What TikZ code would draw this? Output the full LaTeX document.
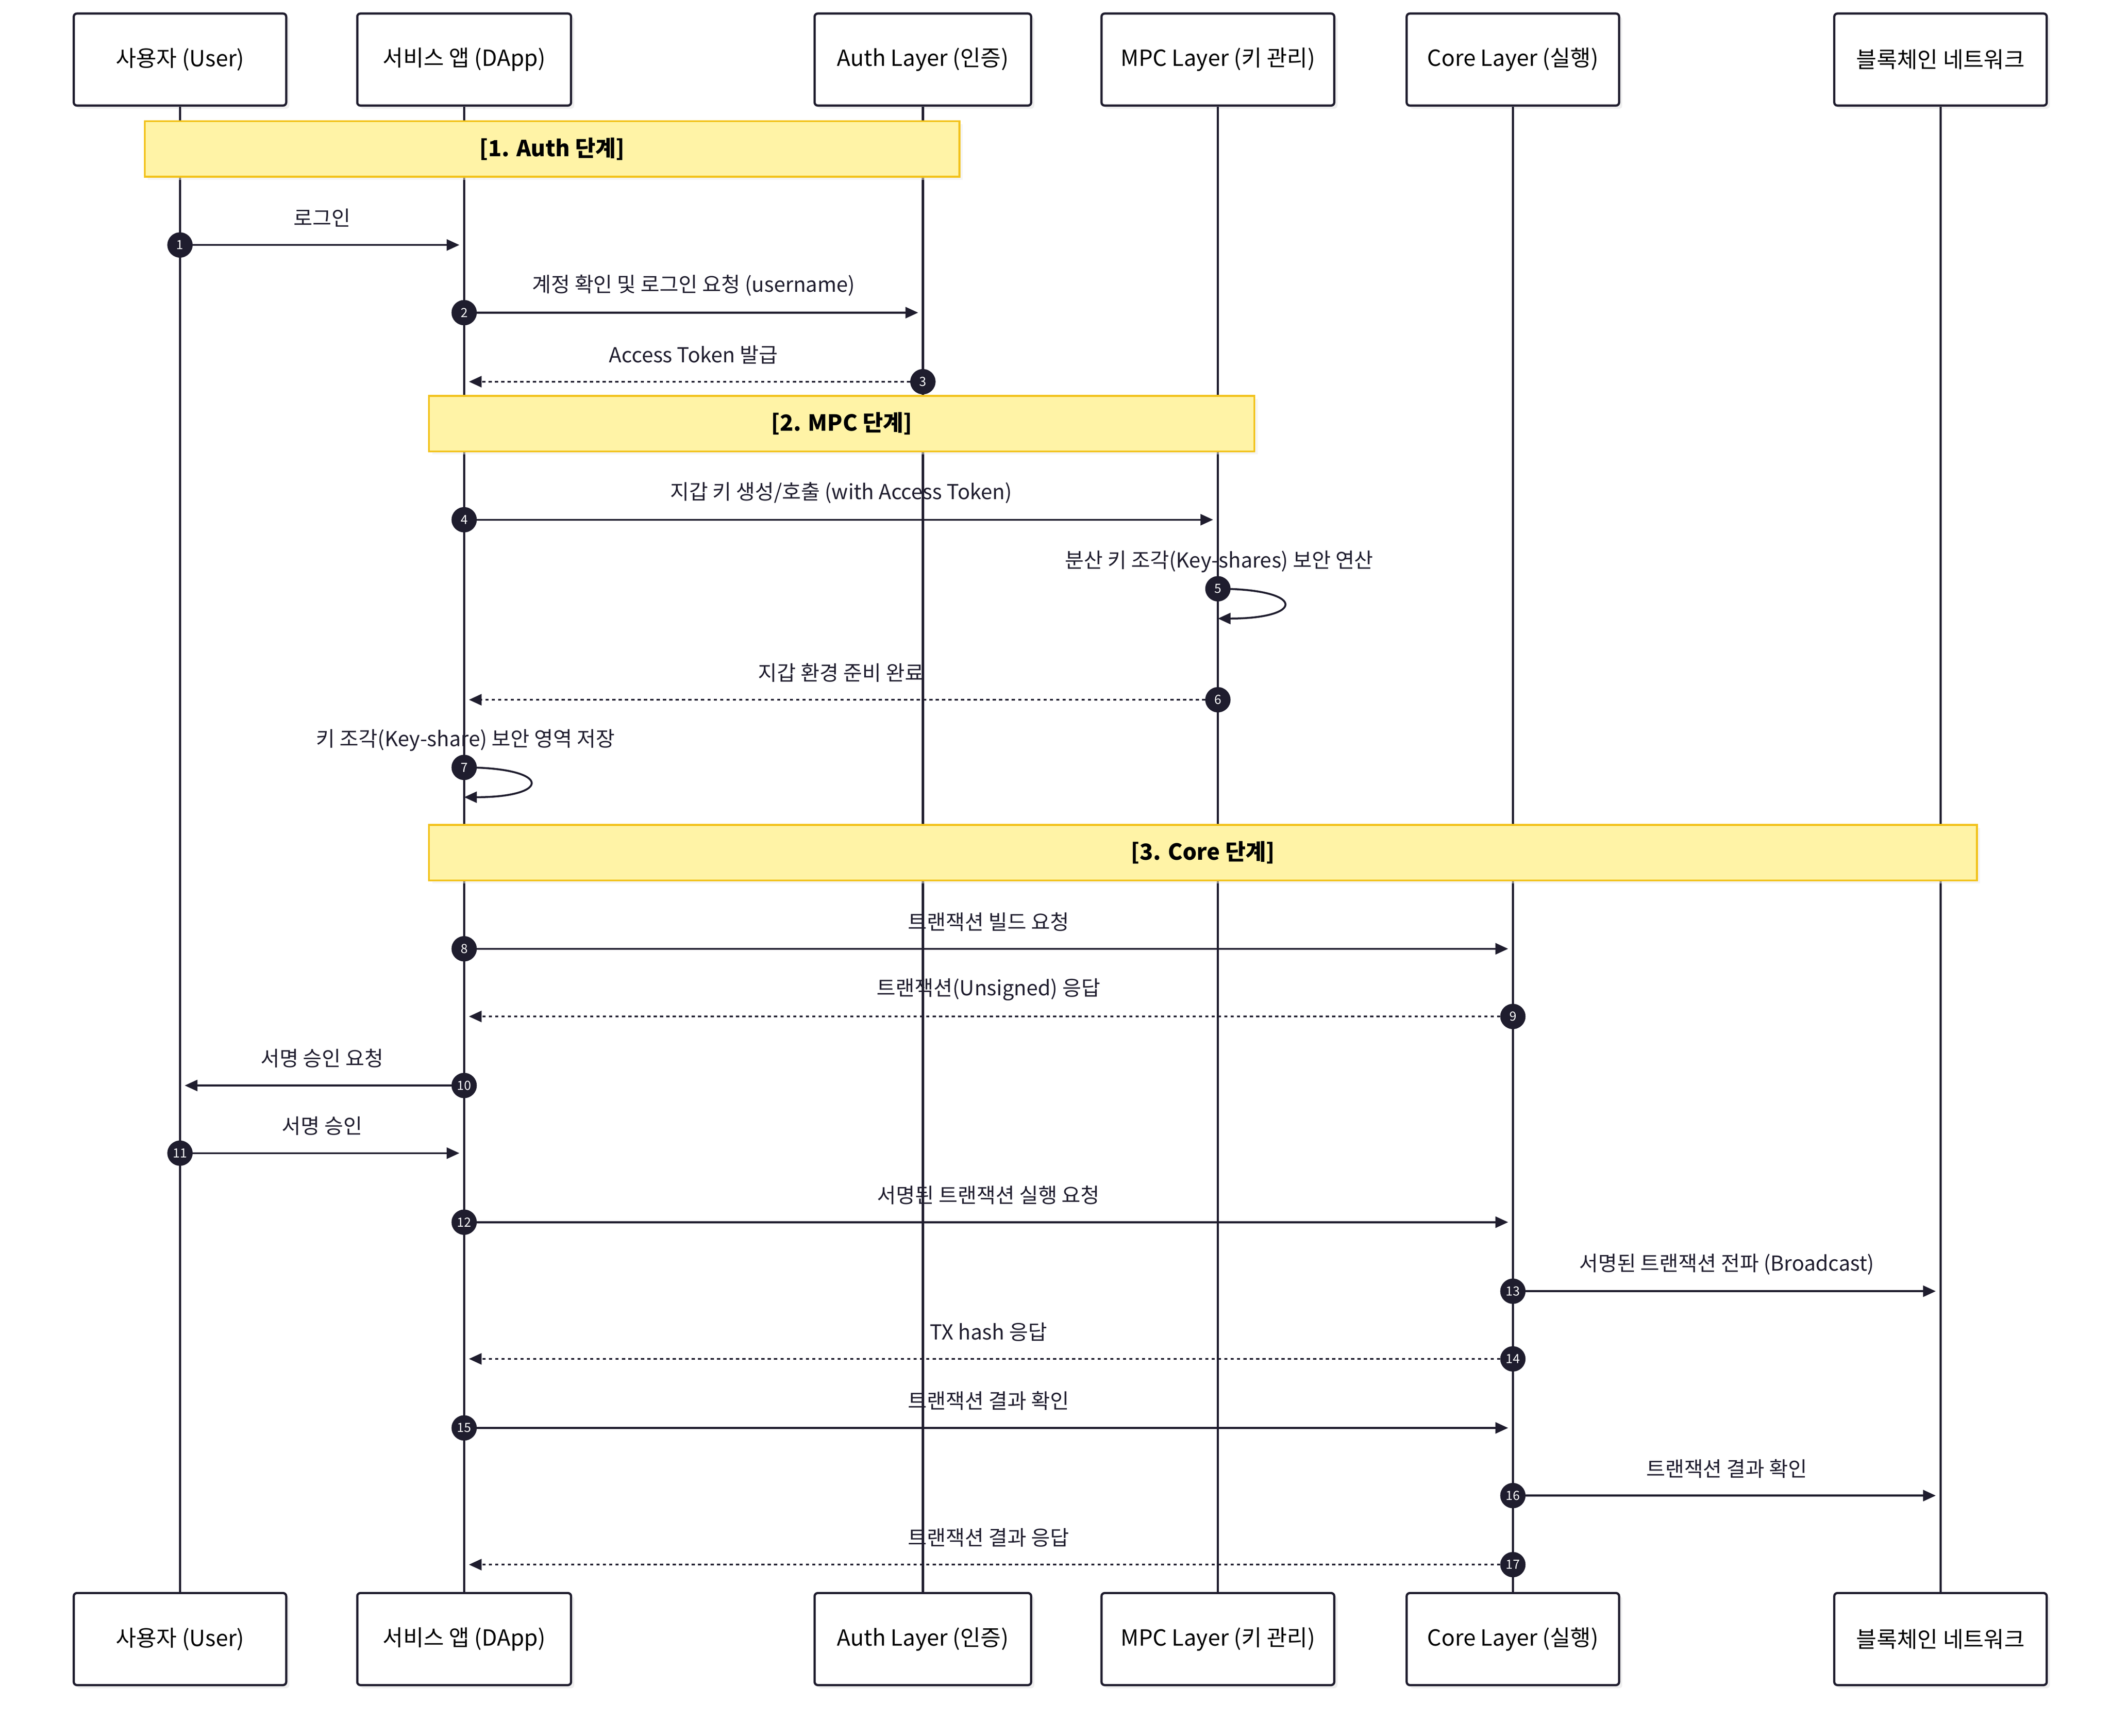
\documentclass[tikz,border=0pt]{standalone}
\usepackage{fontspec}
\setmainfont{Noto Sans CJK KR}
\usetikzlibrary{arrows.meta,shadows}

\definecolor{ink}{HTML}{1F1D2E}
\definecolor{notefill}{HTML}{FFF3A6}
\definecolor{noteline}{HTML}{F2C21B}

\tikzset{
  actor/.style={draw=ink, line width=1.4pt, fill=white, rounded corners=2pt,
    minimum width=4.7cm, minimum height=2.04cm, font=\fontsize{14}{16}\selectfont,
    drop shadow={shadow xshift=2pt, shadow yshift=-2pt, fill=black!12}},
  life/.style={draw=ink, line width=1.4pt},
  note/.style={draw=noteline, line width=1.2pt, fill=notefill,
    drop shadow={shadow xshift=2pt, shadow yshift=-2pt, fill=black!8}},
  num/.style={circle, fill=ink, text=white, inner sep=0pt, minimum size=0.56cm,
    font=\fontsize{8}{9}\selectfont},
  call/.style={draw=ink, line width=1.2pt, -{Triangle[length=8pt,width=7pt]}, shorten >=3pt},
  reply/.style={call, dash pattern=on 2pt off 2pt},
  lbl/.style={font=\fontsize{13}{15}\selectfont, text=ink},
}

% #1 number, #2 y, #3 from x, #4 to x, #5 style, #6 label
\newcommand\msg[6]{%
  \coordinate (s#1) at (#3,#2);
  \coordinate (t#1) at (#4,#2);
  \draw[#5] (s#1) -- (t#1);
  \node[lbl] (l#1) at ({(#3+#4)/2},{#2-20}) {#6};
  \node[num] (m#1) at (s#1) {#1};
}
% self call: #1 number, #2 y, #3 x, #4 label, #5 label x
\newcommand\selfmsg[5]{%
  \coordinate (s#1) at (#3,#2);
  \coordinate (t#1) at (#3,{#2+22});
  \draw[call, shorten >=0pt] (s#1) .. controls ({#3+65},#2) and ({#3+65},{#2+22}) .. (t#1);
  \node[lbl] (l#1) at (#5,{#2-20}) {#4};
  \node[num] (m#1) at (s#1) {#1};
}

\begin{document}
\begin{tikzpicture}[x=0.03cm, y=-0.03cm]
  \useasboundingbox (0,0) rectangle (1560,1282.4);

  % participants
  \foreach \name/\x/\w/\txt in {usr/133/157/사용자 (User), dapp/343/158/서비스 앱 (DApp),
      auth/682/160/Auth Layer (인증), mpc/900/172/MPC Layer (키 관리),
      core/1118/157/Core Layer (실행), chain/1434/157/블록체인 네트워크} {
    \node[actor, minimum width=\w*0.03cm] (\name-top) at (\x,44) {\txt};
    \node[actor, minimum width=\w*0.03cm] (\name-bot) at (\x,1211) {\txt};
    \draw[life] (\name-top) -- (\name-bot);
  }

  % phases
  \node[note, minimum width=602*0.03cm, minimum height=41*0.03cm] (p1) at (408,110)
    {\fontsize{14}{16}\selectfont\bfseries [1. Auth 단계]};

  \msg{1}{181}{133}{343}{call}{로그인}
  \msg{2}{231}{343}{682}{call}{계정 확인 및 로그인 요청 (username)}
  \msg{3}{282}{682}{343}{reply}{Access Token 발급}

  \node[note, minimum width=610*0.03cm, minimum height=41*0.03cm] (p2) at (622,313)
    {\fontsize{14}{16}\selectfont\bfseries [2. MPC 단계]};

  \msg{4}{384}{343}{900}{call}{지갑 키 생성/호출 (with Access Token)}
  \selfmsg{5}{435}{900}{분산 키 조각(Key-shares) 보안 연산}{901}
  \msg{6}{517}{900}{343}{reply}{지갑 환경 준비 완료}
  \selfmsg{7}{567}{343}{키 조각(Key-share) 보안 영역 저장}{344}

  \node[note, minimum width=1144*0.03cm, minimum height=41*0.03cm] (p3) at (889,630)
    {\fontsize{14}{16}\selectfont\bfseries [3. Core 단계]};

  \msg{8}{701}{343}{1118}{call}{트랜잭션 빌드 요청}
  \msg{9}{751}{1118}{343}{reply}{트랜잭션(Unsigned) 응답}
  \msg{10}{802}{343}{133}{call}{서명 승인 요청}
  \msg{11}{852}{133}{343}{call}{서명 승인}
  \msg{12}{903}{343}{1118}{call}{서명된 트랜잭션 실행 요청}
  \msg{13}{954}{1118}{1434}{call}{서명된 트랜잭션 전파 (Broadcast)}
  \msg{14}{1004}{1118}{343}{reply}{TX hash 응답}
  \msg{15}{1055}{343}{1118}{call}{트랜잭션 결과 확인}
  \msg{16}{1105}{1118}{1434}{call}{트랜잭션 결과 확인}
  \msg{17}{1156}{1118}{343}{reply}{트랜잭션 결과 응답}

\end{tikzpicture}
\end{document}
